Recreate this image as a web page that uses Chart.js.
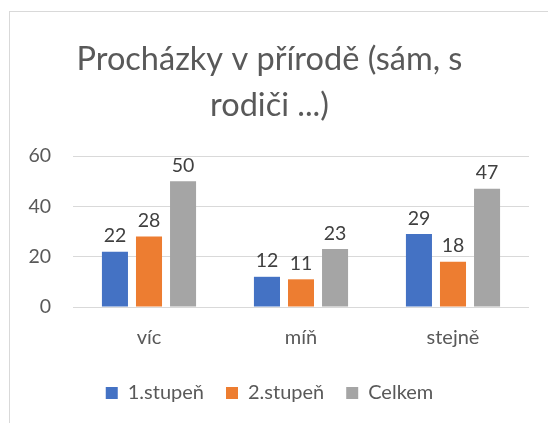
<!DOCTYPE html>
<html>
<head>
<meta charset="utf-8">
<script src="https://cdn.jsdelivr.net/npm/chart.js@4/dist/chart.umd.min.js"></script>
<style>
  html, body { margin: 0; padding: 0; background: #fff; }
  #ramecek {
    position: absolute; left: 9px; top: 11px;
    width: 539px; height: 412px;
    border-left: 1px solid #d9d9d9; border-top: 1px solid #d9d9d9;
  }
</style>
</head>
<body>
<div id="ramecek"><canvas id="graf" width="539" height="412"></canvas></div>
<script>
// kategorie a hodnoty
const kategorie = ["víc", "míň", "stejně"];
const stupen1 = [22, 12, 29];
const stupen2 = [28, 11, 18];
const celkem = [50, 23, 47];
const osaY = [0, 20, 40, 60];

const pismo = "Lato, 'Open Sans', sans-serif";

// hodnoty nad sloupci
const popiskyPlugin = {
  id: "popisky",
  afterDatasetsDraw(chart) {
    const ctx = chart.ctx;
    ctx.save();
    ctx.font = "19.5px " + pismo;
    ctx.fillStyle = "#404040";
    ctx.textAlign = "center";
    ctx.textBaseline = "bottom";
    chart.data.datasets.forEach((ds, i) => {
      chart.getDatasetMeta(i).data.forEach((bar, j) => {
        ctx.fillText(ds.data[j], bar.x, bar.y - 6);
      });
    });
    ctx.restore();
  }
};

new Chart(document.getElementById("graf"), {
  type: "bar",
  data: {
    labels: kategorie,
    datasets: [
      { label: "1.stupeň", data: stupen1, backgroundColor: "#4472C4" },
      { label: "2.stupeň", data: stupen2, backgroundColor: "#ED7D31" },
      { label: "Celkem", data: celkem, backgroundColor: "#A5A5A5" }
    ]
  },
  options: {
    responsive: false,
    animation: false,
    categoryPercentage: 0.672,
    barPercentage: 0.765,
    layout: { padding: { left: 0, right: 20, top: 0, bottom: 11 } },
    plugins: {
      title: {
        display: true,
        text: ["Procházky v přírodě (sám, s", "rodiči ...)"],
        color: "#595959",
        font: { family: pismo, size: 32.5, weight: "normal", lineHeight: 1.4 },
        padding: { top: 25, bottom: 28 }
      },
      legend: {
        position: "bottom",
        labels: {
          color: "#595959",
          font: { family: pismo, size: 20 },
          boxWidth: 12,
          boxHeight: 12,
          padding: 22
        }
      },
      tooltip: { enabled: false }
    },
    scales: {
      x: {
        grid: { display: false },
        border: { display: false },
        ticks: { color: "#595959", font: { family: pismo, size: 20 }, padding: 11 }
      },
      y: {
        min: 0,
        max: 60,
        afterBuildTicks: (osa) => { osa.ticks = osaY.map(v => ({ value: v })); },
        afterFit: (osa) => { osa.width = 63; },
        grid: { color: "#d9d9d9", lineWidth: 1, drawTicks: false },
        border: { display: false },
        ticks: { color: "#595959", font: { family: pismo, size: 19.5 }, padding: 22 }
      }
    }
  },
  plugins: [popiskyPlugin]
});
</script>
</body>
</html>
